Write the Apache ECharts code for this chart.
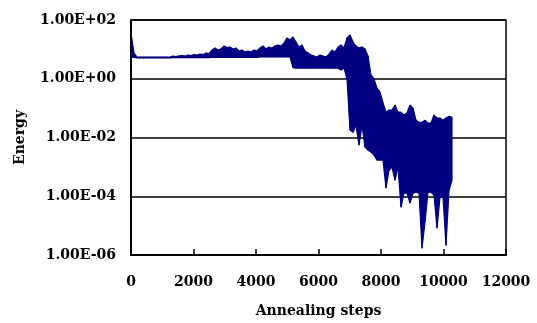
<!DOCTYPE html>
<html>
<head>
<meta charset="utf-8">
<script src="https://cdn.jsdelivr.net/npm/echarts@6/dist/echarts.min.js"></script>
<style>
  html, body { margin: 0; padding: 0; background: #fff; }
  #chart { width: 537px; height: 323px; }
</style>
</head>
<body>
<div id="chart"></div>
<script>
// energy trace, one pair every 96 annealing steps:
// upper edge of the noisy band and lower edge of it
const sampleStep = 96
const energyHigh = [
  36, 7.5, 5.5, 5.5, 5.5, 5.5, 5.5, 5.5, 5.5, 5.5, 5.5, 5.5,
  5.5, 5.5, 5.9, 5.7, 6.0, 6.2, 5.9, 6.4, 6.2, 6.6, 6.4, 6.9,
  6.6, 7.5, 7.2, 9.5, 11.1, 9.5, 10.3, 13.0, 11.5, 12.0, 10.3, 11.1,
  8.8, 9.5, 8.1, 8.8, 8.1, 9.5, 8.8, 11.1, 13.0, 10.3, 12.0, 11.1,
  13.0, 14.1, 13.0, 16.4, 24.4, 20.8, 26.4, 17.8, 12.0, 14.1, 8.8, 7.5,
  6.4, 5.9, 5.5, 6.4, 5.9, 5.5, 6.9, 9.5, 8.1, 12.0, 14.1, 11.1,
  24.4, 30.8, 17.8, 13.0, 11.1, 12.0, 10.3, 5.9, 1.33, 1.0, 0.48, 0.35,
  0.15, 0.073, 0.086, 0.086, 0.127, 0.073, 0.073, 0.058, 0.068, 0.127, 0.10, 0.039,
  0.033, 0.033, 0.039, 0.031, 0.031, 0.058, 0.046, 0.046, 0.039, 0.046, 0.053, 0.049
]
const energyLow = [
  5.3, 5.3, 5.1, 5.1, 5.1, 5.1, 5.1, 5.1, 5.1, 5.1, 5.1, 5.1,
  5.1, 5.1, 5.2, 5.2, 5.2, 5.2, 5.2, 5.2, 5.2, 5.2, 5.2, 5.2,
  5.2, 5.2, 5.2, 5.3, 5.3, 5.3, 5.3, 5.3, 5.3, 5.3, 5.3, 5.3,
  5.3, 5.3, 5.3, 5.3, 5.3, 5.3, 5.3, 5.5, 5.5, 5.5, 5.5, 5.5,
  5.5, 5.5, 5.5, 5.5, 5.5, 5.5, 2.4, 2.3, 2.3, 2.3, 2.3, 2.3,
  2.3, 2.3, 2.3, 2.3, 2.3, 2.3, 2.3, 2.3, 2.3, 2.3, 2.0, 2.3,
  1.0, 0.018, 0.015, 0.026, 0.0055, 0.026, 0.0047, 0.0037, 0.0032, 0.0025, 0.0017, 0.0017,
  0.0017, 0.00019, 0.00077, 0.00098, 0.00035, 0.00098, 0.000042, 0.000127, 0.000127, 0.000058, 0.000127, 0.000137,
  0.000127, 1.7e-6, 0.000013, 0.000137, 0.000137, 0.000109, 8.1e-6, 9.3e-5, 9.3e-5, 2.1e-6, 0.00016, 0.00035
]

const xTicks = [0, 2000, 4000, 6000, 8000, 10000, 12000]
const yTicks = [1e-6, 1e-4, 1e-2, 1, 100]

// one piece of the band per sample: [x, low, high, next x, next low, next high]
const bandPieces = []
for (let i = 0; i < energyHigh.length - 1; i++) {
  bandPieces.push([
    i * sampleStep, energyLow[i], energyHigh[i],
    (i + 1) * sampleStep, energyLow[i + 1], energyHigh[i + 1]
  ])
}

function sciLabel(v) {
  const e = Math.round(Math.log10(v))
  const m = (v / Math.pow(10, e)).toFixed(2)
  return m + 'E' + (e < 0 ? '-' : '+') + String(Math.abs(e)).padStart(2, '0')
}

const font = {
  fontFamily: 'DejaVu Serif',
  fontWeight: 'bold',
  fontSize: 14,
  color: '#000'
}
const navy = '#000080'

function renderPiece(params, api) {
  const a = api.coord([api.value(0), api.value(1)])
  const b = api.coord([api.value(0), api.value(2)])
  const c = api.coord([api.value(3), api.value(5)])
  const d = api.coord([api.value(3), api.value(4)])
  return {
    type: 'polygon',
    shape: { points: [a, b, c, d] },
    style: { fill: navy, stroke: navy, lineWidth: 1.2, lineJoin: 'bevel' }
  }
}

const chart = echarts.init(document.getElementById('chart'))
chart.setOption({
  animation: false,
  grid: {
    left: 131,
    right: 31,
    top: 20,
    bottom: 68,
    show: true,
    borderColor: '#000',
    borderWidth: 1.5
  },
  xAxis: {
    type: 'value',
    min: xTicks[0],
    max: xTicks[xTicks.length - 1],
    interval: xTicks[1] - xTicks[0],
    name: 'Annealing steps',
    nameLocation: 'middle',
    nameGap: 49,
    nameTextStyle: font,
    axisLine: { show: true, lineStyle: { color: '#000', width: 2 } },
    axisTick: { show: true, inside: true, length: 6, lineStyle: { color: '#000', width: 1.5 } },
    axisLabel: Object.assign({ margin: 20, formatter: v => String(v) }, font),
    splitLine: { show: false }
  },
  yAxis: {
    type: 'log',
    logBase: 10,
    min: yTicks[0],
    max: yTicks[yTicks.length - 1],
    interval: 2,
    name: 'Energy',
    nameLocation: 'middle',
    nameGap: 104,
    nameTextStyle: font,
    axisLine: { show: true, lineStyle: { color: '#000', width: 2 } },
    axisTick: { show: false },
    axisLabel: Object.assign({ margin: 15, formatter: sciLabel }, font),
    splitLine: { show: true, lineStyle: { color: '#000', width: 1.5 } }
  },
  series: [{
    type: 'custom',
    data: bandPieces,
    renderItem: renderPiece,
    clip: true,
    encode: { x: [0, 3], y: [1, 2, 4, 5] }
  }]
})
</script>
</body>
</html>
